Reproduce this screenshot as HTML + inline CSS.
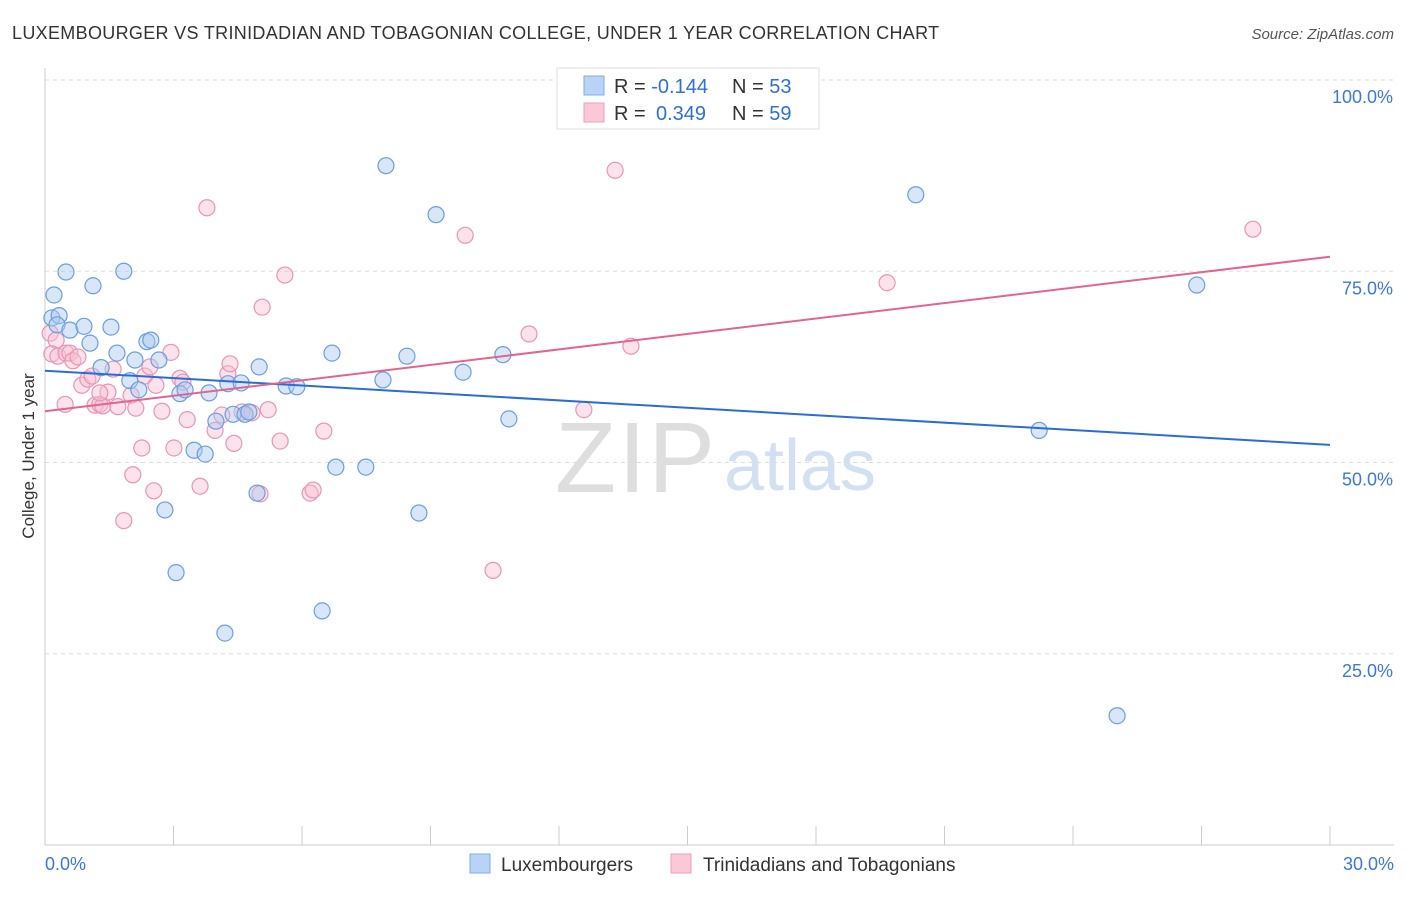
<!DOCTYPE html>
<html><head><meta charset="utf-8"><style>
body{margin:0;background:#fff;font-family:"Liberation Sans",sans-serif;}
svg text{font-family:"Liberation Sans",sans-serif;}
</style></head><body>
<svg id="chart" width="1406" height="892" xmlns="http://www.w3.org/2000/svg">
<text x="12" y="39" font-size="18" letter-spacing="0.32" fill="#333">LUXEMBOURGER VS TRINIDADIAN AND TOBAGONIAN COLLEGE, UNDER 1 YEAR CORRELATION CHART</text>
<text x="1394" y="39" font-size="15" fill="#555" font-style="italic" text-anchor="end">Source: ZipAtlas.com</text>
<text transform="translate(34,456) rotate(-90)" font-size="17" fill="#333" text-anchor="middle">College, Under 1 year</text>
<g>
<text x="635" y="492" font-size="100" fill="#dedede" font-family="Liberation Serif,serif" text-anchor="middle" textLength="160">ZIP</text>
<text x="800" y="490" font-size="72" fill="#d3e0f2" text-anchor="middle">atlas</text>
</g>
<g id="grid"></g><g id="axes"></g><g id="lines"></g><g id="pts"></g>
<g>
<rect x="557" y="68" width="262" height="61" fill="#fff" stroke="#ddd"/>
<rect x="584" y="76" width="20" height="19" fill="#b8d3f5" stroke="#7eaee8"/>
<rect x="584" y="103" width="20" height="19" fill="#fbc8d7" stroke="#eea0ba"/>
<text x="614" y="93" font-size="20" fill="#333">R = <tspan fill="#2f6fd6">-0.144</tspan><tspan x="732">N = </tspan><tspan fill="#2f6fd6">53</tspan></text>
<text x="614" y="120" font-size="20" fill="#333">R = <tspan x="656" fill="#2f6fd6">0.349</tspan><tspan x="732">N = </tspan><tspan fill="#2f6fd6">59</tspan></text>
</g>
<g>
<rect x="470" y="854" width="20" height="19" fill="#b8d3f5" stroke="#7eaee8"/>
<text x="501" y="871" font-size="19" fill="#333">Luxembourgers</text>
<rect x="671" y="854" width="20" height="19" fill="#fbc8d7" stroke="#eea0ba"/>
<text x="703" y="871" font-size="19" fill="#333">Trinidadians and Tobagonians</text>
</g>
</svg>
<script>
const blueX=[0.16,0.21,0.49,0.33,0.28,0.58,0.91,1.12,1.05,1.54,1.84,1.31,1.68,1.98,2.10,2.19,2.38,2.47,2.66,3.15,3.27,3.48,3.74,2.80,3.06,3.83,3.99,4.27,4.39,4.58,4.67,4.20,4.95,5.00,5.63,5.88,6.47,6.70,6.79,7.49,7.89,7.96,8.45,8.73,9.13,9.76,10.69,10.83,20.33,23.21,25.03,26.89,4.76];
const blueY=[68.9,71.9,74.9,69.2,68.0,67.3,67.8,73.1,65.6,67.7,75.0,62.4,64.3,60.7,63.4,59.5,65.8,66.0,63.4,59.0,59.5,51.6,51.1,43.8,35.6,59.1,55.4,60.3,56.3,60.4,56.3,27.7,46.0,62.5,60.0,59.9,30.6,64.3,49.4,49.4,60.8,88.8,63.9,43.4,82.4,61.8,64.1,55.7,85.0,54.2,16.9,73.2,56.6];
const pinkX=[0.12,0.26,0.16,0.30,0.49,0.58,0.65,0.77,0.47,0.86,1.00,1.17,1.28,1.35,1.47,1.59,1.70,1.84,2.01,2.12,2.05,2.26,2.33,2.45,2.54,2.73,2.59,2.94,3.01,3.15,3.22,3.32,3.62,3.78,3.97,4.13,4.27,4.32,4.41,4.60,4.83,5.02,5.07,5.21,5.49,5.60,6.19,6.26,6.51,9.81,10.46,11.30,12.58,13.31,13.68,19.66,28.20,1.28,1.10];
const pinkY=[66.9,66.0,64.2,63.9,64.3,64.3,63.3,63.8,57.6,60.1,60.9,57.5,57.6,57.4,59.2,62.2,57.3,42.4,58.8,57.1,48.4,51.9,61.3,62.5,46.3,56.7,60.1,64.4,51.9,61.0,60.5,55.6,46.9,83.3,54.2,56.2,61.6,62.9,52.5,56.6,56.5,45.9,70.3,56.9,52.8,74.5,46.0,46.4,54.1,79.7,35.9,66.8,56.9,88.2,65.2,73.5,80.5,59.1,61.3];
const blueTrend=[62.0,52.3];
const pinkTrend=[56.7,76.9];
const yTicks=[100,75,50,25];
const yTickLabels=["100.0%","75.0%","50.0%","25.0%"];
const xTickLabels=["0.0%","30.0%"];
const NS="http://www.w3.org/2000/svg";
const sx=v=>45+v/30*1285, sy=v=>845-v/100*765;
function mk(t,a,p){const e=document.createElementNS(NS,t);for(const k in a)e.setAttribute(k,a[k]);p.appendChild(e);return e;}
const grid=document.getElementById('grid'),axes=document.getElementById('axes');
yTicks.forEach((v,i)=>{
 const l=mk('line',{x1:45,x2:1394,y1:sy(v),y2:sy(v),stroke:'#ddd','stroke-dasharray':'4,4'},grid);
 
 
 const t=mk('text',{x:1393,y:sy(v)+23,'font-size':18,fill:'#3b78d8','text-anchor':'end'},axes);t.textContent=yTickLabels[i];
 
 
});
const ax=mk('line',{x1:45,x2:1394,y1:845,y2:845,stroke:'#ccc'},axes);


const ay=mk('line',{x1:45,x2:45,y1:68,y2:845,stroke:'#ccc'},axes);


for(let i=0;i<=10;i++){const tk=mk('line',{x1:sx(i*3),x2:sx(i*3),y1:826,y2:845,stroke:'#ccc'},axes);
 
 }
[[0,'start',45],[30,'end',1394]].forEach((d,i)=>{const t=mk('text',{x:d[2],y:870,'font-size':18,fill:'#3b78d8','text-anchor':d[1]},axes);t.textContent=xTickLabels[i];
 
 });
const pts=document.getElementById('pts');
function dots(X,Y,fill,stroke,name){X.forEach((x,i)=>{const c=mk('circle',{cx:sx(x),cy:sy(Y[i]),r:8,fill:fill,stroke:stroke,'stroke-width':1.2},pts);
 
 });}
dots(pinkX,pinkY,'rgba(248,190,210,0.45)','#e896b3','trinidadian-point');
dots(blueX,blueY,'rgba(170,200,240,0.45)','#6a9fe0','luxembourger-point');
const bl=mk('line',{x1:sx(0),y1:sy(blueTrend[0]),x2:sx(30),y2:sy(blueTrend[1]),stroke:'#2a6dd6','stroke-width':2},pts);


const pl=mk('line',{x1:sx(0),y1:sy(pinkTrend[0]),x2:sx(30),y2:sy(pinkTrend[1]),stroke:'#e2648f','stroke-width':2},pts);


</script>
</body></html>
